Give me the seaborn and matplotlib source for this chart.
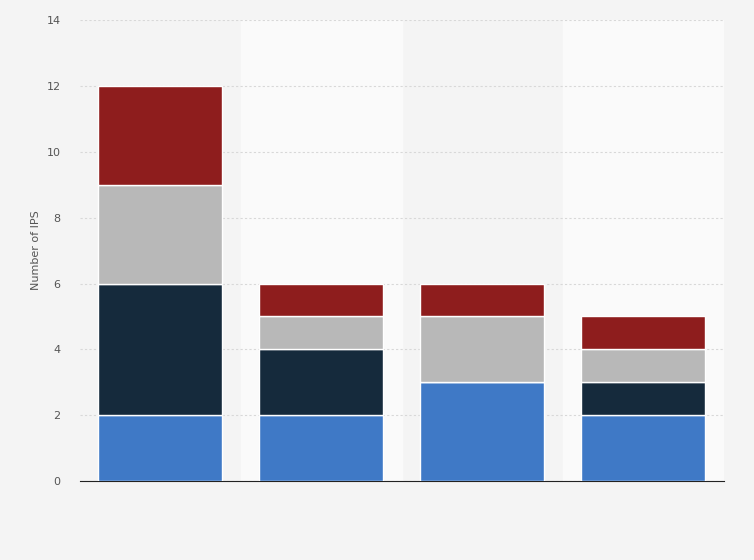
import matplotlib
matplotlib.use("Agg")
import matplotlib.pyplot as plt
import seaborn as sns
import numpy as np

categories = ["A", "B", "C", "D"]
s_blue = [2, 2, 3, 2]
s_navy = [4, 2, 0, 1]
s_gray = [3, 1, 2, 1]
s_red = [3, 1, 1, 1]
series = [s_blue, s_navy, s_gray, s_red]
colors = ["#2876dd", "#0f2a42", "#b8b8b8", "#a10a0a"]
yticks = [0, 2, 4, 6, 8, 10, 12, 14]

sns.set_style("white")
fig = plt.figure(figsize=(7.54, 5.6), dpi=100, facecolor="#f4f4f4")
ax = fig.add_axes([0.106, 0.141, 0.854, 0.823])
ax.set_facecolor("#f4f4f4")
for i in range(len(categories)):
    if i % 2 == 1:
        ax.axvspan(i - 0.5, i + 0.5, color="#fafafa", zorder=0)

bottom = np.zeros(len(categories))
for vals, c in zip(series, colors):
    sns.barplot(x=categories, y=vals, bottom=bottom, color=c, width=0.77,
                edgecolor="white", linewidth=1, ax=ax, zorder=3)
    bottom += np.array(vals)

ax.set_xlim(-0.5, len(categories) - 0.5)
ax.set_ylim(0, 14)
ax.set_yticks(yticks)
ax.set_yticklabels([str(t) for t in yticks], fontsize=8, color="#555555")
ax.yaxis.grid(True, color="#d8d8d8", linestyle=(0, (2, 2)), linewidth=0.8, zorder=1)
ax.set_axisbelow(True)
ax.set_xticks([])
ax.set_ylabel("Number of IPS", fontsize=8, color="#555555")
for s in ["top", "right", "left"]:
    ax.spines[s].set_visible(False)
ax.spines["bottom"].set_color("#222222")
ax.tick_params(axis="y", length=0, pad=14)
fig.savefig("out.png", dpi=100, facecolor=fig.get_facecolor())
